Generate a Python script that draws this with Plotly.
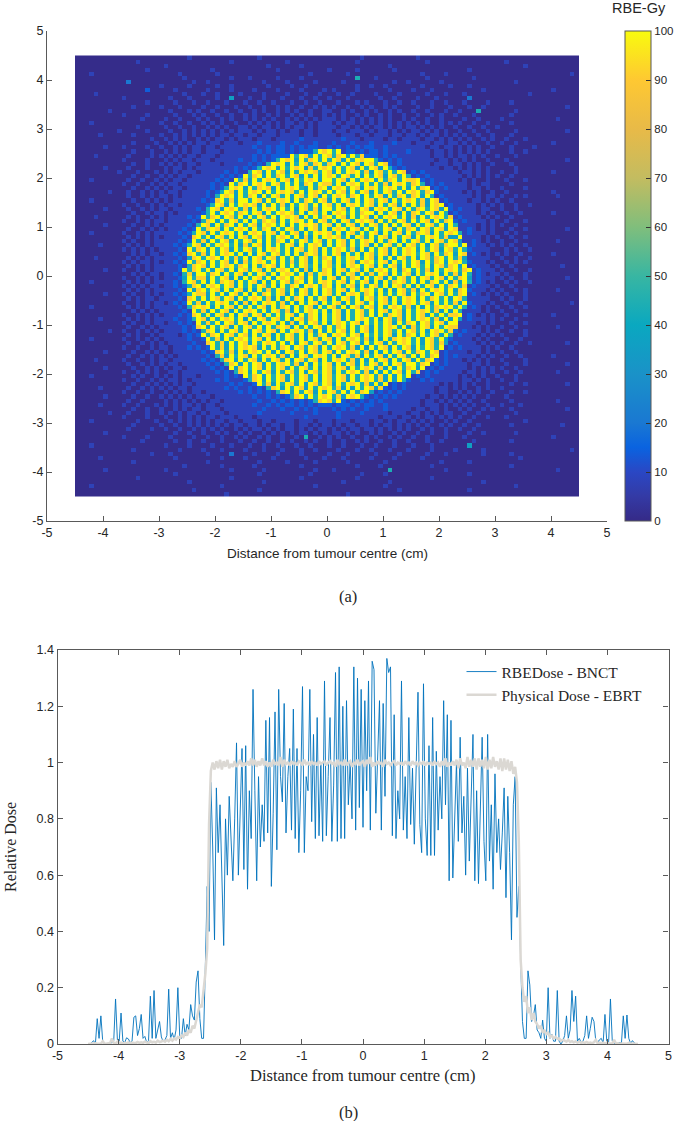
import plotly.graph_objects as go

W, H = 675, 1121

# ---------------- panel (a) data: dose map, one string per row, top row first ----------------
# each row has 12 groups of 9 cells; "-" stands for a group of nine background cells
DOSE_LEVELS = [0.5, 8, 14, 20, 36, 44, 55, 70, 92, 100]
CELL_CM = 1 / 12
MAP_EDGE_CM = 4.5
DOSE_ROWS = """
- - 000000100 - 000100000 - 000000010 - 010000000 - - -
- 000010000 - 000000100 - 100000000 000000100 - 000100000 - 001000000 -
- - 010000000 - 000001000 000100000 - 000010000 - - 000000100 -
- 000000100 - 001000000 000000010 - 100000100 000001000 - 000100000 - -
000100000 - 000010000 000100000 - 000001000 000010000 - 001000010 - - 000000010
- - 000001000 000000100 010000010 000100000 000000500 010000000 000100000 000010000 - -
- 003000000 000000010 010000000 000010000 100000100 000100000 000001001 000000100 - 000010000 -
- - 100000100 000100100 000001000 010010000 000000100 100100000 001000001 000100000 - -
- 000000200 000100000 010000100 001000010 000100001 010000100 000010000 100010000 000000100 - 000100000
000010000 - 000001000 100100001 000010000 100010010 001001000 010000100 000100010 001000000 000000010 -
- 010000000 001000100 000100400 010010001 000100100 100010000 001001000 010001000 000300000 - -
- 000000100 000100010 010001000 100100100 010010010 001000101 000100100 100010010 001000010 000100000 -
- 000100000 100010000 100100010 010010010 100100101 010010010 100101000 010010001 000100100 - 000000100
000000010 - 001000101 001001001 001010010 101001001 100101001 010010100 100100010 010005000 000010000 -
- 010000100 000100010 100100100 101001010 010101001 010100101 001010010 010010100 100010000 000100000 -
- 000001000 010010001 010010100 101010100 101010101 110101010 101010010 100100100 001001000 010000000 000010000
000100000 - 100100100 101010010 010101010 110101011 101011010 101010101 010100101 010010010 000100000 -
- 000010000 010010010 010101001 101011010 101101011 110110101 011010101 101010100 100100100 100000000 -
- 100000100 001001010 101010101 110101101 011011011 101101110 101101010 110101010 010010010 000010000 000000100
000001000 000100000 100101010 101011011 011011101 111011011 110111011 011101101 101011010 101001001 000100000 -
- 000000010 010101001 010110101 110111011 111211111 111211101 111011011 110110101 010100101 001000100 -
- 000100001 001010101 101101110 111211112 112111211 121112111 211112111 011101101 101010010 010010000 000100000
000000100 010000100 100101011 011011111 112112122 121212211 212121212 211211111 111011011 010101001 000100001 -
- 000100010 010101011 011101111 111212122 121222598 959122121 221211112 111101101 010101010 000100100 -
000010000 001000010 101010110 111011111 112121222 295984959 858949582 221212111 111101101 011010100 100010000 -
- 010000100 010101101 110111112 112121259 894958959 598495989 952121211 111110110 101010010 001000000 000000100
- 000100100 101010110 111101111 121215989 495985895 894959849 859821211 111101110 110101001 000100000 -
000000100 001000100 010110101 111111121 212598949 598948598 959598495 984952121 111111011 010101010 000010000 -
- 100010001 010101110 111112121 159849598 495989859 849598958 498595981 212111111 101101010 010010000 000100000
- 000100100 101011011 111121212 958949589 598495949 895985949 598498595 121211111 110101010 100100000 -
000100000 001001001 010110111 111212195 849598959 849598949 959849598 949589598 892121111 101010010 001000100 -
- 010010010 101101111 112121958 949895985 959489598 859498959 595849895 895121211 111010110 000100000 -
- 000100101 010110111 112125989 495898495 989549589 498959849 895989594 958912121 111011010 010000100 -
000000010 001001010 101101111 121259849 598949598 985949895 959849598 495985949 895892111 110101001 001000000 000100000
- 001001010 110101111 121598949 589495985 949859849 598958949 598495895 894951211 111101011 010010100 000010000
000100000 000100101 010111111 212895849 959849598 949589598 495985949 859849598 958498121 111011010 100100000 -
- 010010010 101101111 125984959 898495958 495985949 859498959 849598495 958498912 111110101 010010010 -
000000100 001001010 110111112 159849895 849598959 594985849 959849598 498959849 589598492 121110110 010010000 -
- 000100101 101011111 259498958 959849598 985949859 498959589 949598494 895984951 211110101 001001000 000100000
000010000 001010010 101111212 958949859 495985949 898495958 959849598 495989594 849598958 121111010 100100000 -
- 010010101 101111121 589495985 949589849 598959498 594985989 849595984 959849589 212111101 001000100 -
000000100 000100101 011111215 984958949 598498959 495989859 849598495 985949598 495985949 511110101 010010000 -
- 001001010 101112129 589849598 949589495 985949859 498959849 595984958 949859849 811210101 000100100 000000100
000100000 010010101 111121259 849598959 498959849 598495989 859498595 984959849 589849598 951211101 001010000 -
- 001010101 011112189 594985949 859849598 959484959 898594985 959849598 495989584 491111010 100100100 -
- 010100101 111121295 849598495 985949589 495985984 959849598 949589495 985949859 841121010 010010000 000010000
000001000 001010101 111212598 495989594 859849595 984959894 959849598 495985949 859498589 949121101 010100100 -
- 010101010 111121958 949598495 985949895 949859849 598958494 959849598 949598498 595211110 001010010 -
- 000101011 011212895 849598959 494985985 949589849 598495949 859849598 959849589 498121010 101001000 000100000
000010000 001010101 111121489 598949585 949859849 595984958 949598959 849594985 949858959 584111110 010010010 -
- 010101101 011212958 949598494 859895949 585984959 849598498 959849595 984958949 895211101 001010100 -
- 001010101 111121589 849598958 949589849 595985949 859498959 849598495 985949858 949121110 100100000 000001000
000000100 010010101 111129589 594985949 859849598 959484958 949859849 598959489 595849598 958912111 010010010 -
- 000101011 011215849 958949598 495985949 895948598 949598495 859849598 495989495 849512101 101000100 -
- 010010101 011124958 849598494 959859498 959849595 984958949 598495985 949859849 589412111 010100100 000000100
000100000 001010101 111215985 949589849 598494959 858949598 959849598 494958985 949589594 849512101 001010010 -
- 010101011 011212589 498959849 595985949 589498958 949598495 985949859 495984958 958121110 100100000 -
- 001010101 111121948 959849598 494958598 594985949 859849598 959494985 849598959 489211101 010010100 000010000
000000100 010100101 011212598 849594985 949589598 495985949 859498958 949595984 958949859 589121010 101000100 -
- 001010110 111121895 949859849 598958494 958949598 495985949 859849598 949589594 985111110 010100100 -
- 010010101 101212958 495989594 849598958 494959849 598495985 949859498 959849595 849211101 001001000 000000010
000100000 001010101 111121589 894959849 595984958 949598495 985949859 849598958 494958989 595121010 100100100 -
- 000101010 111112195 849598495 989594985 849598959 498495985 949859849 598958494 951111010 010010000 -
- 010010101 011121289 594985949 859849595 984958949 598495985 949589849 598495958 891210101 001000100 000100000
000001000 001010101 111211259 849598959 494985985 949858949 598495989 594985849 598958494 941211101 010010000 -
- 010100101 101121219 585949859 849598959 484959859 498959849 595984958 949859849 911110101 000100100 -
- 001001010 111112128 949598495 985949589 849595984 958949598 495989594 859849598 811101010 010010000 000010000
000000010 010010101 011112121 589495985 949859849 598958494 959849598 495985949 859498958 212111010 100100100 -
- 001010010 111101212 958949859 849598495 985949589 498959849 595984958 949598495 121110101 010000100 -
000100000 010010101 011111211 295849598 959849495 985949859 849598958 494958989 594985942 111101010 001001000 -
- 001001010 101111121 189584959 849598959 494985985 949859849 598495989 594985841 211110101 010010010 000000100
- 010010010 110111212 129584959 898495958 949859849 598958494 959849598 495985912 121111010 100100000 -
000000100 000100101 010111111 212895849 598959494 985949859 849598958 494959849 589598121 111011010 010010000 -
- 001001010 101011111 121584959 849598958 494985989 594985849 598495985 949589121 211110101 001001000 000100000
000010000 010010010 110111111 212158949 598495985 949859849 598958494 959849598 495892121 110101010 010000100 -
- 001001010 101101111 121215894 959849598 958494959 849598495 985949859 958912121 111011010 001000100 000000100
000000100 000100101 010110111 112121948 959849598 495985949 859849598 958494958 949121211 111010101 010010000 -
- 010010101 001101111 111212158 949598495 985949859 849598958 494959849 581212111 110110101 001001000 000010000
000100000 000101001 010101110 111112121 958949598 495985949 859849598 958494959 121211111 101010100 100010000 -
- 010010010 101101011 111212111 258949598 495985949 859849598 958494952 112121111 101101010 010010000 -
- 000100101 010101101 111111212 112958495 985949859 849598958 494912121 111111010 101010010 000100100 000000100
000001000 001001010 101011011 111112121 121215894 959849598 958494959 848212121 111110110 101001010 010000000 -
- 010010010 010101011 011111112 121212158 949598495 985949589 412121211 111110110 010101001 000100100 -
000000100 000100100 101010101 110111111 112112121 258949598 958498952 121212111 111011010 101010010 001000000 -
- 001001000 010101010 101101111 111211212 121212589 849212121 212111111 110110101 010100100 000100000 000010000
000001000 010010001 010101101 011011111 112112121 221212122 212221212 211211111 110111010 101010010 010001000 -
- 000100100 100101011 011101111 111121112 112121211 121212112 111211111 011011010 010100101 000100000 000000100
000000010 001000100 101010110 101110111 111211111 121111211 112111121 111101110 110101011 001001000 000010000 -
- 010000100 010010101 011011101 110111111 111121111 112111111 110111011 010110101 010010010 001000000 -
000100000 000010001 001010101 010110110 111011011 110111011 101110111 011010110 101010010 100100000 000000100 -
- 000100000 100100101 010101011 011010110 110110101 101011011 010110101 010100101 001001000 000100000 000001000
- 001000010 010010010 101010010 101101010 110101011 010101101 101010101 001010010 010010000 - -
000000100 - 000100100 100101001 010010101 010110101 011010100 101001010 010010010 000100100 000010000 -
- 010000100 001000010 010010010 100101001 001050010 101001001 010010100 100100010 001000000 - 000100000
- 000001000 000100100 100010001 001001001 010010100 100100101 001001001 000100100 000010000 000100000 -
000100000 - 010000100 001000100 010010010 001001000 100100010 010001000 100010000 000400000 - -
- 000100000 000010000 100010000 100010001 000100100 001000100 100010001 000010000 100000100 - 000000010
- 000000010 001000000 010000300 001000010 000100000 100010000 010000100 000100010 000000100 000100000 -
000001000 - 000100000 000010000 100000100 000010001 000100000 100001000 001000000 - 000001000 -
- 000100000 - 010000000 000100000 100000100 000010000 000100000 000000100 000100000 - -
- - 000001000 000010000 001000000 000100000 000000100 001000000 000010000 - 000100000 -
000000100 - 010000000 000000100 000010000 000000100 010000000 000050000 000000010 - - 000010000
- - 000100000 - 000100000 000001000 000000010 000100000 - 000100000 - -
- 000010000 - 000000100 - 000100000 000000100 - 000010000 - - -
- - 000000100 - 000010000 - 000100000 000010000 - 000000100 - -
000100000 - - 000010000 - 000000100 - 000100000 - - 000010000 -
- - 000000010 - 000100000 - - 000000100 - 000100000 - -
- - - 000001000 - - 000010000 - - - - -
"""

XY_TICKS = [-5, -4, -3, -2, -1, 0, 1, 2, 3, 4, 5]
XY_LABELS = ["-5", "-4", "-3", "-2", "-1", "0", "1", "2", "3", "4", "5"]
CBAR_TICKS = [0, 10, 20, 30, 40, 50, 60, 70, 80, 90, 100]

# ---------------- panel (b) data: samples every 0.03 cm from -4.5 to 4.5 ----------------
SAMPLE_START = -4.5
SAMPLE_STEP = 0.03
RBE_DOSE = [
    0, 0, .005, .012, 0, .09, .02, .10, .01, 0,
    0, 0, .002, .005, .01, .16, .015, .01, .11, .01,
    .005, .022, .018, .005, .01, .095, .10, .03, .055, .105,
    .02, .027, .005, .012, .17, .02, .19, .02, .055, .08,
    .025, .008, .015, .03, .195, .02, .04, .015, .05, .20,
    .03, .02, .09, .03, .07, .05, .14, .10, .085, .22,
    .26, .09, .02, .02, .28, .56, .40, .93, .70, .37,
    .91, .68, .85, .58, .35, .80, .60, .88, .70, .58,
    .80, 1.07, .60, .82, 1.05, .62, 1.06, .55, .90, .73,
    1.26, .90, .58, .95, .70, .85, .72, 1.15, .75, 1.16,
    .56, .82, 1.18, .69, 1.26, .95, .86, 1.21, .75, .95,
    1.05, .76, 1.19, .73, 1.05, .68, .90, 1.27, .68, .95,
    .90, 1.26, .79, 1.10, .73, 1.16, .74, 1.0, .72, 1.29,
    .74, .95, 1.16, .72, .92, 1.32, .72, 1.34, .73, 1.20,
    .73, 1.22, .85, 1.0, .80, 1.34, .76, 1.30, .84, 1.26,
    .77, 1.22, .90, 1.29, .76, 1.36, 1.33, .82, 1.0, 1.22,
    .76, 1.21, .88, 1.37, 1.32, 1.34, .74, 1.17, .73, .90,
    .80, 1.29, .76, .95, .73, 1.16, .78, .98, .71, 1.02,
    1.25, .78, .68, 1.28, .80, .67, 1.06, .67, 1.16, .67,
    1.04, .76, .95, .80, 1.22, .85, 1.17, .58, 1.15, .59,
    .80, 1.0, .72, 1.09, .75, .88, .60, .98, .65, .90,
    1.10, .58, .90, .57, .85, 1.09, .72, .58, 1.10, .65,
    .85, .55, .96, .68, .80, .62, .75, .91, .52, .88,
    .68, .37, .85, .95, .45, .56, .30, .08, .02, .02,
    .26, .21, .08, .10, .14, .05, .04, .02, .085, .02,
    .01, .20, .02, .035, .01, .01, .19, .01, 0, .01,
    .03, .10, .02, .05, .19, .08, .17, .01, .02, .005,
    .01, .03, .10, .02, .055, .095, .08, .01, .005, .015,
    .02, .003, .105, .01, .005, .16, .01, .002, .005, .002,
    .005, .003, .10, .02, .103, .02, .002, .012, .004, 0,
    0,
]
PHYSICAL_DOSE = [
    0, .001, .002, .001, .003, .001, .002, .001, .01, .002,
    .001, .003, .002, .02, .004, .002, .008, .003, .005, .002,
    .004, .002, .006, .003, .005, .004, .003, .007, .004, .006,
    .004, .008, .005, .003, .01, .006, .008, .005, .012, .007,
    .009, .012, .008, .015, .01, .018, .012, .02, .016, .025,
    .02, .03, .025, .04, .03, .05, .04, .065, .055, .085,
    .11, .14, .13, .19, .25, .34, .78, .97, 1.0, .975,
    1.005, .98, 1.01, .975, 1.005, .985, 1.01, .98, .995, .985,
    1.005, .985, .995, 1.01, .985, 1.0, .99, 1.005, .99, 1.015,
    .99, 1.01, .985, 1.005, .99, 1.015, .99, 1.005, .985, 1.0,
    .985, 1.01, .995, 1.0, .99, 1.02, .985, 1.01, .995, 1.0,
    .99, 1.005, .995, 1.0, .99, 1.005, 1.0, .99, 1.01, .995,
    1.0, .99, 1.005, .995, 1.0, .99, 1.005, .995, 1.0, 1.005,
    .99, 1.0, 1.005, .995, 1.0, .985, 1.01, .995, 1.0, .99,
    1.01, .99, 1.0, 1.005, .985, 1.0, .995, 1.01, .99, 1.0,
    1.005, .985, 1.01, .995, 1.02, .985, 1.0, .99, 1.005, .995,
    1.0, .985, 1.01, .995, 1.0, .99, 1.0, 1.005, .99, 1.0,
    .995, 1.0, .99, 1.005, .995, 1.0, .99, 1.005, .995, 1.0,
    .99, 1.0, .995, 1.005, .99, 1.0, .995, 1.0, .99, 1.005,
    .995, 1.0, .985, 1.005, .99, 1.015, .985, 1.0, .99, 1.005,
    .99, 1.01, .98, 1.015, .99, 1.0, .98, 1.02, .985, 1.01,
    .985, 1.015, .975, 1.015, .985, 1.01, .98, 1.02, .975, 1.01,
    .98, 1.02, .985, 1.005, .975, 1.015, .97, 1.015, .975, 1.01,
    .97, 1.005, .96, .985, .93, .72, .30, .20, .15, .17,
    .11, .13, .085, .11, .08, .07, .055, .065, .04, .05,
    .035, .04, .025, .03, .02, .025, .018, .02, .012, .015,
    .012, .008, .015, .007, .01, .006, .009, .005, .008, .004,
    .006, .004, .007, .003, .005, .003, .006, .015, .003, .005,
    .003, .005, .002, .004, .002, .003, .002, .015, .002, .003,
    .001, .002, .001, .002, .001, .004, .001, .002, .001, .001,
    0,
]
REL_TICKS = [0, 0.2, 0.4, 0.6, 0.8, 1, 1.2, 1.4]
REL_LABELS = ["0", "0.2", "0.4", "0.6", "0.8", "1", "1.2", "1.4"]

# ---------------- styling ----------------
PARULA = [
    [0.00, "#352a87"], [0.05, "#343aa5"], [0.10, "#2a47c4"], [0.15, "#0a63e0"],
    [0.20, "#1a78d2"], [0.30, "#1a92c8"], [0.40, "#0aa8c0"], [0.50, "#38b6a2"],
    [0.60, "#80be7c"], [0.70, "#c3bc60"], [0.80, "#e8ba48"], [0.90, "#fec832"],
    [1.00, "#f9fb0e"],
]
AX = "#595959"
TXT = "#262626"
SANS = "Liberation Sans"
SERIF = "Liberation Serif"

z = []
for line in DOSE_ROWS.strip().splitlines():
    groups = [("0" * 9 if g == "-" else g.ljust(9, "0")[:9]) for g in line.split()]
    z.append([DOSE_LEVELS[int(c)] for c in "".join(groups).ljust(108, "0")[:108]])
ncols, nrows = len(z[0]), len(z)
x_cells = [-MAP_EDGE_CM + (i + 0.5) * CELL_CM for i in range(ncols)]
y_cells = [MAP_EDGE_CM - (j + 0.5) * CELL_CM for j in range(nrows)]
x_samples = [SAMPLE_START + i * SAMPLE_STEP for i in range(len(RBE_DOSE))]


def dom_x(a, b):
    return [a / W, b / W]


def dom_y(top, bottom):
    return [(H - bottom) / H, (H - top) / H]


def note(text, px, py, family, size, angle=0):
    return dict(text=text, x=px / W, y=(H - py) / H, xref="paper", yref="paper",
                xanchor="center", yanchor="middle", showarrow=False, textangle=angle,
                font=dict(family=family, size=size, color=TXT))


fig = go.Figure()
fig.add_trace(go.Heatmap(
    x=x_cells, y=y_cells, z=z, zmin=0, zmax=100, colorscale=PARULA,
    xaxis="x", yaxis="y", hoverinfo="skip",
    colorbar=dict(
        x=625 / W, xanchor="left", xpad=0, y=(H - 521) / H, yanchor="bottom", ypad=0,
        thickness=26, thicknessmode="pixels", len=490, lenmode="pixels",
        tickvals=CBAR_TICKS, ticks="inside", ticklen=5, tickwidth=1, tickcolor="#333333",
        outlinecolor=AX, outlinewidth=1,
        tickfont=dict(family=SANS, size=11.5, color=TXT),
    ),
))
fig.add_trace(go.Scatter(
    x=x_samples, y=RBE_DOSE, mode="lines", name="RBEDose - BNCT",
    line=dict(color="rgba(0,114,189,0.9)", width=1), xaxis="x2", yaxis="y2",
))
fig.add_trace(go.Scatter(
    x=x_samples, y=PHYSICAL_DOSE, mode="lines", name="Physical Dose - EBRT",
    line=dict(color="#dbd8d3", width=2.5), xaxis="x2", yaxis="y2",
))

tickstyle = dict(ticks="inside", ticklen=5, tickwidth=1.2, tickcolor=AX,
                 showline=True, linecolor=AX, linewidth=1.3, showgrid=False, zeroline=False)

fig.update_layout(
    width=W, height=H, autosize=False,
    margin=dict(l=0, r=0, t=0, b=0, autoexpand=False),
    paper_bgcolor="white", plot_bgcolor="white",
    font=dict(family=SANS, color=TXT),
    xaxis=dict(domain=dom_x(47, 607), range=[-5, 5], anchor="y",
               tickvals=XY_TICKS, ticktext=XY_LABELS,
               tickfont=dict(family=SANS, size=12.5, color=TXT), **tickstyle),
    yaxis=dict(domain=dom_y(31, 521), range=[-5, 5], anchor="x",
               tickvals=XY_TICKS, ticktext=XY_LABELS,
               tickfont=dict(family=SANS, size=12.5, color=TXT), **tickstyle),
    xaxis2=dict(domain=dom_x(57.5, 668.5), range=[-5, 5], anchor="y2", mirror="ticks",
                tickvals=XY_TICKS, ticktext=XY_LABELS,
                tickfont=dict(family=SANS, size=12.5, color=TXT), **tickstyle),
    yaxis2=dict(domain=dom_y(650, 1044), range=[0, 1.4], anchor="x2", mirror="ticks",
                tickvals=REL_TICKS, ticktext=REL_LABELS,
                tickfont=dict(family=SANS, size=12.5, color=TXT), **tickstyle),
    legend=dict(x=461.5 / W, y=(H - 655) / H, xanchor="left", yanchor="top",
                bgcolor="rgba(0,0,0,0)", borderwidth=0, itemwidth=30,
                font=dict(family=SERIF, size=15.5, color=TXT)),
    annotations=[
        note("RBE-Gy", 638.5, 8, SANS, 14.5),
        note("Distance from tumour centre (cm)", 327, 553, SANS, 13.5),
        note("Distance from tumour centre (cm)", 362.5, 1075, SERIF, 16.5),
        note("Relative Dose", 10, 847, SERIF, 16, angle=-90),
        note("(a)", 348, 596, SERIF, 16.5),
        note("(b)", 348, 1112, SERIF, 16.5),
    ],
)

fig.write_html("out.html", config={"displayModeBar": False},
               post_script="document.body.style.margin='0';document.body.style.overflow='hidden';")
